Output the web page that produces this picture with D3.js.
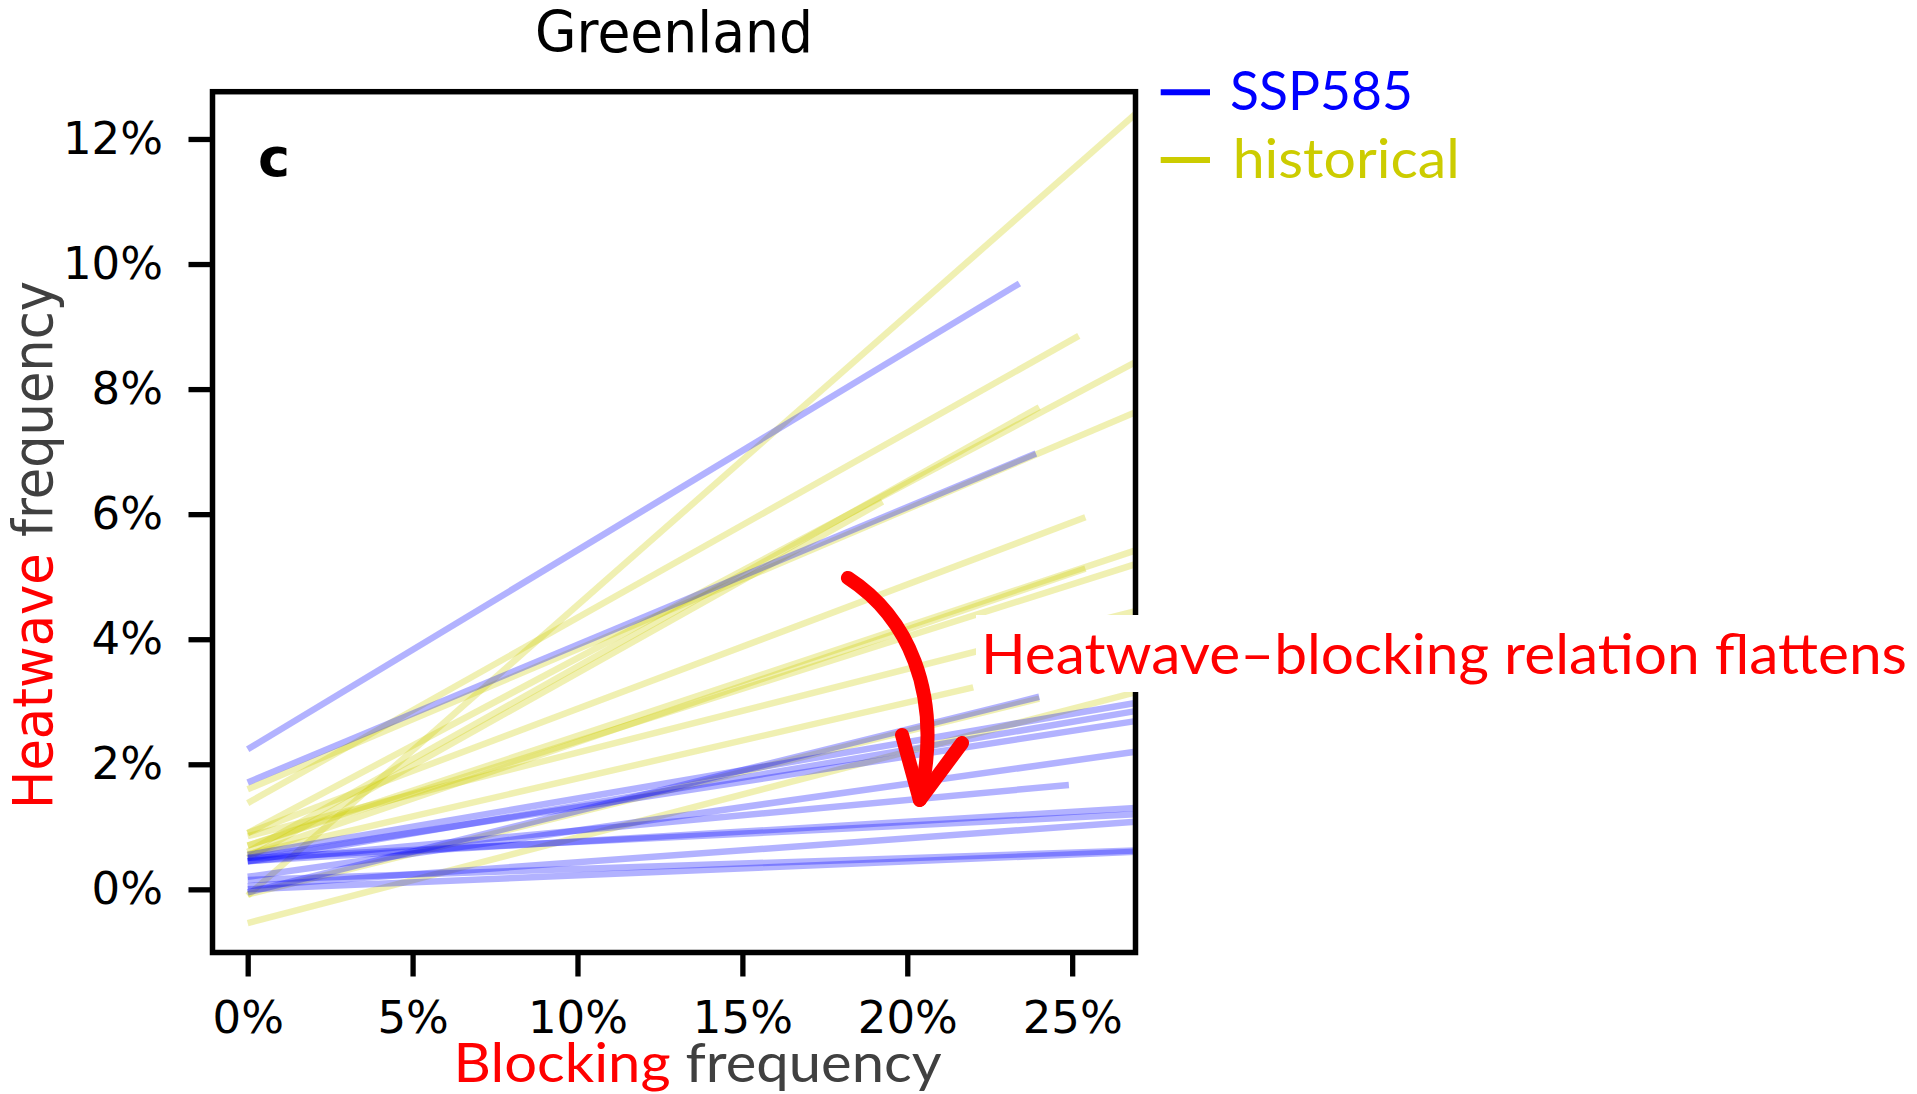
<!DOCTYPE html>
<html>
<head>
<meta charset="utf-8">
<script src="https://cdn.jsdelivr.net/npm/d3@7"></script>
<style>
  body { margin: 0; background: #fff; }
</style>
</head>
<body>
<div id="chart"></div>
<script>
// tick values (percent)
var xTicks = [0, 5, 10, 15, 20, 25];
var yTicks = [0, 2, 4, 6, 8, 10, 12];

// historical fits: each line runs from blocking 0% to the model's end point
var histStartY = [-0.1, 1.38, 0.9, 0.6, 1.6, 0.5, 0.9, 0.7, 0.55, 0.7, 0.85, 0.56, -0.54, -0.08];
var histEndX   = [26.92, 25.2, 26.92, 24.0, 26.92, 19.25, 25.4, 26.92, 25.4, 26.92, 26.92, 22.0, 26.92, 24.0];
var histEndY   = [12.4, 8.85, 8.43, 7.71, 7.63, 6.2, 5.95, 5.42, 5.13, 5.2, 4.45, 3.23, 3.15, 3.05];

// SSP585 fits
var sspStartY = [2.24, 1.71, -0.05, 0.55, 0.45, 0.5, 0.2, 0.45, 0.45, 0.5, 0.05, 0.0, 0.15];
var sspEndX   = [23.4, 23.9, 24.0, 26.92, 26.92, 26.92, 26.92, 24.9, 26.92, 26.92, 26.92, 26.92, 26.92];
var sspEndY   = [9.69, 6.97, 3.08, 2.98, 2.85, 2.69, 2.2, 1.67, 1.3, 1.2, 1.08, 0.6, 0.62];

var width = 1917, height = 1094;

var svg = d3.select("#chart")
  .append("svg")
  .attr("width", width)
  .attr("height", height);

var x = d3.scaleLinear().domain([-1.067, 26.92]).range([212.5, 1135.5]);
var y = d3.scaleLinear().domain([-1.01, 12.756]).range([952.5, 91.7]);

svg.append("clipPath").attr("id", "plotclip")
  .append("rect")
  .attr("x", x.range()[0]).attr("y", y.range()[1])
  .attr("width", x.range()[1] - x.range()[0])
  .attr("height", y.range()[0] - y.range()[1]);

function toLines(startY, endX, endY) {
  return startY.map(function(s, i) {
    return [[0, s], [endX[i], endY[i]]];
  });
}

var line = d3.line()
  .x(function(d) { return x(d[0]); })
  .y(function(d) { return y(d[1]); });

var plot = svg.append("g").attr("clip-path", "url(#plotclip)");

// historical first, SSP585 on top
plot.selectAll(".hist")
  .data(toLines(histStartY, histEndX, histEndY))
  .enter()
  .append("path")
    .attr("class", "hist")
    .attr("d", line)
    .attr("fill", "none")
    .attr("stroke", "#cccc00")
    .attr("stroke-opacity", 0.3)
    .attr("stroke-width", 6.5);

plot.selectAll(".ssp")
  .data(toLines(sspStartY, sspEndX, sspEndY))
  .enter()
  .append("path")
    .attr("class", "ssp")
    .attr("d", line)
    .attr("fill", "none")
    .attr("stroke", "#0000ff")
    .attr("stroke-opacity", 0.3)
    .attr("stroke-width", 6.5);

// axes
var xAxis = svg.append("g")
  .attr("transform", "translate(0," + y.range()[0] + ")")
  .call(d3.axisBottom(x).tickValues(xTicks).tickFormat(function(d) { return d + "%"; })
    .tickSize(24).tickPadding(25));

var yAxis = svg.append("g")
  .attr("transform", "translate(" + x.range()[0] + ",0)")
  .call(d3.axisLeft(y).tickValues(yTicks).tickFormat(function(d) { return d + "%"; })
    .tickSize(24).tickPadding(25.5));

[xAxis, yAxis].forEach(function(a) {
  a.select(".domain").remove();
  a.selectAll(".tick line").attr("stroke", "#000").attr("stroke-width", 5.3);
  a.selectAll(".tick text")
    .attr("fill", "#000")
    .style("font-family", "DejaVu Sans")
    .style("font-size", "45px");
});

// frame
svg.append("rect")
  .attr("x", x.range()[0]).attr("y", y.range()[1])
  .attr("width", x.range()[1] - x.range()[0])
  .attr("height", y.range()[0] - y.range()[1])
  .attr("fill", "none")
  .attr("stroke", "#000")
  .attr("stroke-width", 5.5);

// panel letter
svg.append("text")
  .attr("x", 258).attr("y", 176)
  .text("c")
  .style("font-family", "DejaVu Sans")
  .style("font-weight", "bold")
  .style("font-size", "54px");

// title
svg.append("text")
  .attr("x", 535).attr("y", 52)
  .attr("textLength", 278)
  .attr("lengthAdjust", "spacingAndGlyphs")
  .text("Greenland")
  .style("font-family", "DejaVu Sans")
  .style("font-size", "57px");

// y label
var yl = svg.append("text")
  .attr("transform", "translate(51.7,809) rotate(-90)")
  .attr("textLength", 528)
  .attr("lengthAdjust", "spacingAndGlyphs")
  .style("font-family", "DejaVu Sans")
  .style("font-size", "55px");
yl.append("tspan").attr("fill", "#ff0000").text("Heatwave");
yl.append("tspan").attr("fill", "#404040").text(" frequency");

// x label
var xl = svg.append("text")
  .attr("x", 453.6).attr("y", 1081.7)
  .attr("textLength", 488)
  .attr("lengthAdjust", "spacingAndGlyphs")
  .style("font-family", "Lato")
  .style("font-size", "54px");
xl.append("tspan").attr("fill", "#ff0000").text("Blocking");
xl.append("tspan").attr("fill", "#404040").text(" frequency");

// legend
var legend = [
  {name: "SSP585", color: "#0000ff", ly: 92.3, tx: 1230, ty: 110, w: 183},
  {name: "historical", color: "#cccc00", ly: 160, tx: 1232.7, ty: 178, w: 227}
];
var lg = svg.selectAll(".legend").data(legend).enter().append("g").attr("class", "legend");
lg.append("line")
  .attr("x1", 1160.7).attr("x2", 1210)
  .attr("y1", function(d) { return d.ly; }).attr("y2", function(d) { return d.ly; })
  .attr("stroke", function(d) { return d.color; })
  .attr("stroke-width", 6);
lg.append("text")
  .attr("x", function(d) { return d.tx; })
  .attr("y", function(d) { return d.ty; })
  .attr("textLength", function(d) { return d.w; })
  .attr("lengthAdjust", "spacingAndGlyphs")
  .attr("fill", function(d) { return d.color; })
  .text(function(d) { return d.name; })
  .style("font-family", "Lato")
  .style("font-size", "55px");

// annotation arrow (data coordinates)
var arrowShaft = [[18.2, 4.98], [19.93, 4.39], [21.14, 3.19], [20.38, 1.43]];
var arrowHead = [[19.84, 2.47], [20.38, 1.43], [21.66, 2.34]];
var p = arrowShaft.map(function(d) { return [x(d[0]), y(d[1])]; });
svg.append("path")
  .attr("d", "M" + p[0] + "C" + p[1] + " " + p[2] + " " + p[3])
  .attr("fill", "none")
  .attr("stroke", "#ff0000")
  .attr("stroke-width", 14)
  .attr("stroke-linecap", "round");
svg.append("path")
  .attr("d", line(arrowHead))
  .attr("fill", "none")
  .attr("stroke", "#ff0000")
  .attr("stroke-width", 14)
  .attr("stroke-linecap", "round")
  .attr("stroke-linejoin", "round");

// annotation box + text
svg.append("rect")
  .attr("x", 976).attr("y", 615)
  .attr("width", width - 976).attr("height", 77)
  .attr("fill", "#fff");
svg.append("text")
  .attr("x", 981).attr("y", 674)
  .attr("textLength", 926)
  .attr("lengthAdjust", "spacingAndGlyphs")
  .attr("fill", "#ff0000")
  .text("Heatwave\u2013blocking relation flattens")
  .style("font-family", "Lato")
  .style("font-size", "56px");
</script>
</body>
</html>
